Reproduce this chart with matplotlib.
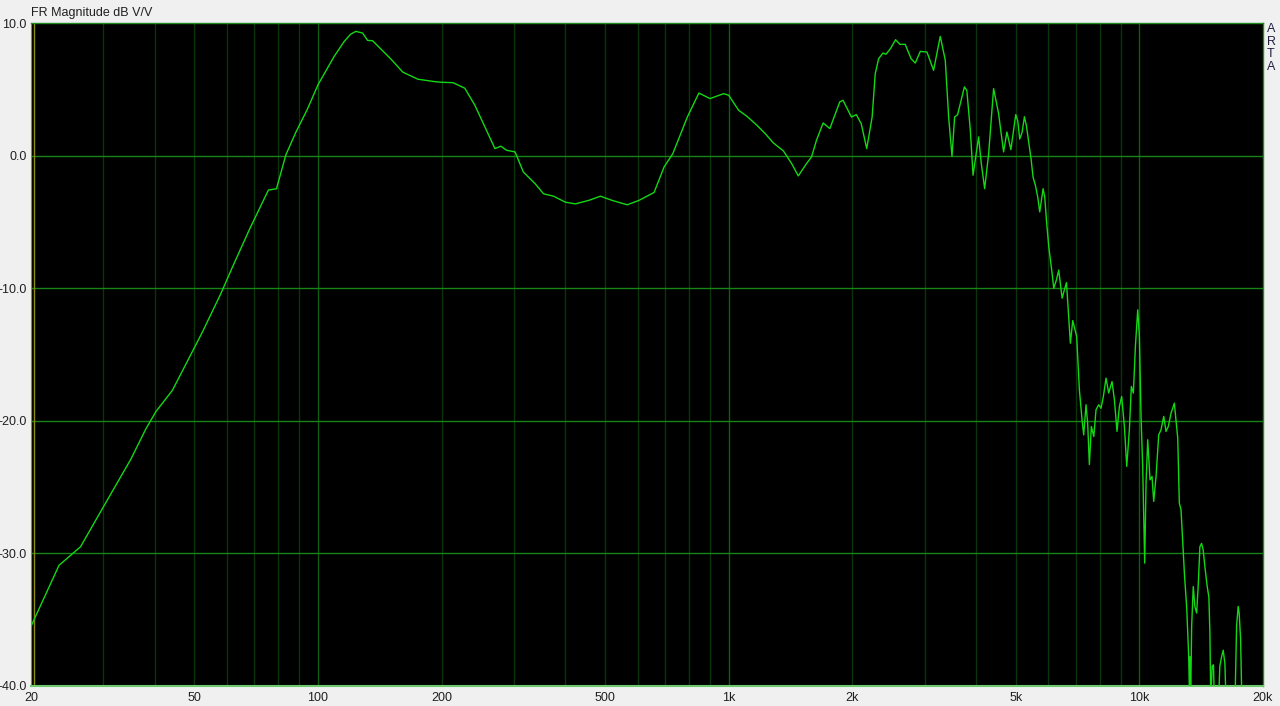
import numpy as np
import matplotlib
matplotlib.use("Agg")
import matplotlib.pyplot as plt

# Frequency response data (Hz, dB)
freq_hz = [
    20, 23.4, 26.4, 30, 35, 38.1, 40.3, 44.2, 52.3, 58, 61.9, 68, 75.7, 79.2, 83.5, 88.3, 94.2,
    100, 109.4, 115.8, 120, 123.6, 128.4, 132, 135.8, 142.3, 150.6, 160.9, 175.1, 192.2, 200, 213.2,
    227.7, 240.8, 254.8, 269.6, 278.8, 287.9, 301.8, 316.2, 337.8, 354, 374.5, 399.9, 423.1,
    456.1, 487, 520.3, 566, 604.5, 658, 696, 731, 793, 846, 900, 972, 1000, 1057, 1108, 1171,
    1227, 1285, 1359, 1423, 1477, 1547, 1591, 1636, 1698, 1763, 1864, 1898, 1990, 2045, 2102,
    2168, 2235, 2274, 2318, 2376, 2415, 2477, 2549, 2611, 2690, 2780, 2846, 2928, 3039, 3154,
    3274, 3368, 3432, 3497, 3549, 3609, 3749, 3800, 3876, 3935, 4060, 4121, 4200, 4295, 4416,
    4541, 4670, 4758, 4865, 5000, 5056, 5113, 5180, 5249, 5308, 5377, 5448, 5510, 5583, 5656,
    5720, 5774, 5828, 5883, 5939, 6017, 6073, 6130, 6187, 6280, 6362, 6420, 6484, 6570, 6645,
    6699, 6792, 6882, 7036, 7143, 7251, 7318, 7414, 7483, 7555, 7640, 7745, 7842, 7961, 8065,
    8172, 8294, 8420, 8578, 8693, 8822, 8939, 9056, 9194, 9316, 9454, 9560, 9669, 9779, 9908,
    10000, 10094, 10187, 10303, 10381, 10478, 10616, 10735, 10837, 10980, 11145, 11290, 11463,
    11610, 11760, 11943, 12166, 12400, 12511, 12630, 12870, 13040, 13186, 13250, 13290, 13330,
    13406, 13527, 13650, 13787, 13914, 14040, 14175, 14302, 14439, 14628, 14765, 14850, 14920,
    15043, 15150, 15220, 15600, 15700, 15857, 16000, 16152, 16250, 17100, 17246, 17400, 17500,
    17640, 17760, 20000,
]
level_db = [
    -35.5, -30.9, -29.5, -26.5, -22.9, -20.6, -19.3, -17.7, -13.3, -10.4, -8.4, -5.6, -2.6, -2.5,
    0.06, 1.76, 3.5,
    5.35, 7.47, 8.61, 9.15, 9.37, 9.24, 8.69, 8.66, 8.03, 7.27, 6.29, 5.76, 5.58, 5.53, 5.5,
    5.08, 3.81, 2.17, 0.53, 0.71, 0.40, 0.28, -1.24, -2.12, -2.88, -3.06, -3.51, -3.64,
    -3.38, -3.06, -3.38, -3.71, -3.38, -2.78, -0.86, 0.15, 2.91, 4.72, 4.30, 4.67, 4.55, 3.42,
    2.96, 2.29,
    1.66, 0.95, 0.35, -0.60, -1.53, -0.60, -0.10, 1.16, 2.46, 2.04, 4.05, 4.17, 2.91, 3.09, 2.41,
    0.53, 2.91, 6.18, 7.31, 7.74, 7.64, 8.07, 8.74, 8.39, 8.39, 7.31, 6.98, 7.86, 7.81, 6.43,
    8.99, 7.19, 2.91, -0.05, 2.91, 3.09, 5.18, 4.92, 1.91, -1.48, 1.41, -0.60, -2.49, 0.15, 5.05,
    3.17, 0.28, 1.78, 0.45, 3.09, 2.63, 1.25, 1.75, 2.93, 2.25, 1.0, -0.25, -1.63, -2.25, -3.13,
    -4.25, -3.38, -2.5, -3.13, -4.88, -6.88, -7.88, -8.88, -10.0, -9.38, -8.63, -9.63, -10.75,
    -10.1, -9.58,
    -11.26, -14.15, -12.44, -13.64, -17.66, -19.92, -21.06, -18.79, -20.18, -23.3, -20.43, -21.18,
    -19.17, -18.79, -19.05,
    -18.17, -16.78, -17.91, -17.04, -18.42, -20.8, -18.92, -18.17, -20.43, -23.44, -20.68, -17.41,
    -17.91, -14.4, -11.63,
    -13.64, -19.67, -23.44, -30.73, -24.7, -21.43, -24.45, -24.2, -26.08, -24.2, -21.06, -20.68,
    -19.67,
    -20.8, -20.43, -19.42, -18.67, -21.31, -26.21, -26.71, -31.48, -34.12, -37.76, -41.0, -37.8,
    -41.0,
    -35.5, -32.5, -34.0, -34.5, -32.3, -29.5, -29.25, -29.75, -31.0, -32.5, -33.3, -36.0, -41.0,
    -38.5, -38.4, -41.0, -41.0, -38.5, -37.8, -37.3, -38.3, -41.0, -41.0, -35.5, -34.0, -34.5,
    -36.5, -41.0, -45.0,
]

x_ticks = [20, 50, 100, 200, 500, 1000, 2000, 5000, 10000, 20000]
x_tick_labels = ["20", "50", "100", "200", "500", "1k", "2k", "5k", "10k", "20k"]
y_ticks = [10, 0, -10, -20, -30, -40]
y_tick_labels = ["10.0", "0.0", "-10.0", "-20.0", "-30.0", "-40.0"]

plt.rcParams['font.family'] = ['Liberation Sans', 'DejaVu Sans']

fig = plt.figure(figsize=(12.8, 7.06), dpi=100, facecolor="#f0f0f0")
ax = fig.add_axes([31/1280, 1 - 686/706, (1263 - 31)/1280, (686 - 23)/706])
ax.set_facecolor("black")
ax.set_xscale("log")
ax.set_xlim(20, 20000)
ax.set_ylim(-40, 10)

# Grid lines
minor = []
for dec in [10, 100, 1000, 10000]:
    for m in range(2, 10):
        f = dec * m
        if 20 < f < 20000:
            minor.append(f)
for f in minor:
    ax.axvline(f, color="#0a340a", lw=1.0, zorder=1)
for f in [100, 1000, 10000]:
    ax.axvline(f, color="#0f5e0f", lw=1.0, zorder=1)
for y in [0, -10, -20, -30]:
    ax.axhline(y, color="#168416", lw=1.0, zorder=1)
ax.axvline(20.3, color="#8c8c10", lw=1.0, zorder=2)

ax.plot(freq_hz, level_db, color="#14d814", lw=1.0, zorder=3, clip_on=True)

for s in ["top", "right"]:
    ax.spines[s].set_color("#1f8a1f")
    ax.spines[s].set_linewidth(1.0)
ax.spines["left"].set_color("#8c8c10")
ax.spines["bottom"].set_color("#6cc86c")
ax.spines["bottom"].set_linewidth(1.5)

ax.set_xticks(x_ticks)
ax.set_xticklabels(x_tick_labels)
ax.set_yticks(y_ticks)
ax.set_yticklabels(y_tick_labels)
ax.xaxis.set_minor_locator(matplotlib.ticker.NullLocator())
ax.tick_params(axis="both", length=0, labelsize=9, colors="#202020", pad=3)
ax.tick_params(axis="x", pad=4)

fig.text(31/1280, 1 - 13/706, "FR Magnitude dB V/V", fontsize=9, color="#202020",
         ha="left", va="center")
fig.text(1271/1280, 1 - 48/706, "A\nR\nT\nA", fontsize=9, color="#202040",
         ha="center", va="center", linespacing=1.05)

fig.savefig("out.png", dpi=100, facecolor=fig.get_facecolor())
